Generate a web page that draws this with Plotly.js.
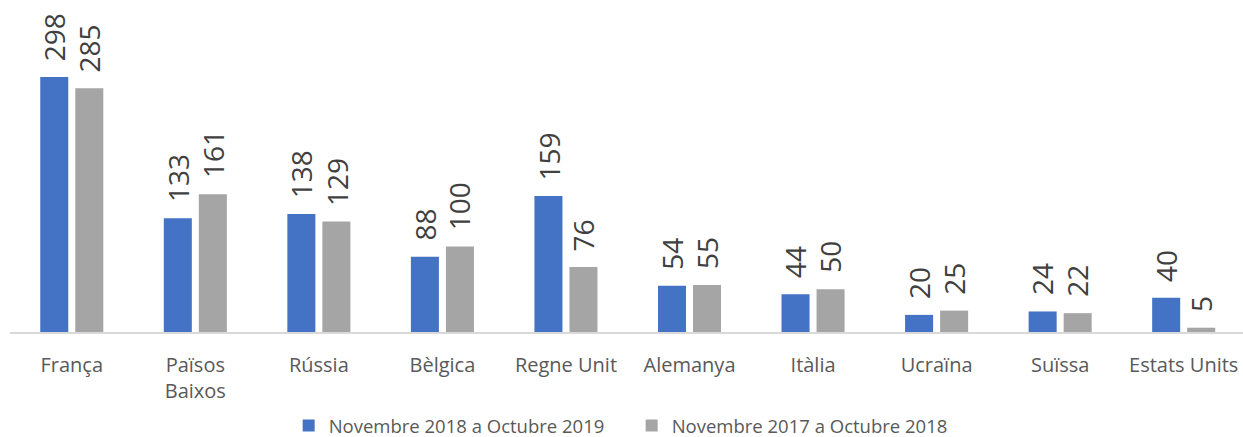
<!DOCTYPE html>
<html>
<head>
<meta charset="utf-8">
<script src="https://cdn.plot.ly/plotly-3.0.1.min.js"></script>
<style>html,body{margin:0;padding:0;background:#fff;}#chart{width:1243px;height:437px;}</style>
</head>
<body>
<div id="chart"></div>
<script>
var categories = ["França", "Països<br>Baixos", "Rússia", "Bèlgica", "Regne Unit", "Alemanya", "Itàlia", "Ucraïna", "Suïssa", "Estats Units"];
var series1Name = "Novembre 2018 a Octubre 2019";
var series2Name = "Novembre 2017 a Octubre 2018";
var series1 = [298, 133, 138, 88, 159, 54, 44, 20, 24, 40];
var series2 = [285, 161, 129, 100, 76, 55, 50, 25, 22, 5];

var blue = "#4472C4", gray = "#A5A5A5", txt = "#595959";
var fontFam = "Open Sans, Noto Sans, sans-serif";

var traces = [
  {type: "bar", name: series1Name, x: categories, y: series1, marker: {color: blue}, hoverinfo: "none"},
  {type: "bar", name: series2Name, x: categories, y: series2, marker: {color: gray}, hoverinfo: "none"}
];

var annotations = [];
function addLabels(vals, shift) {
  vals.forEach(function (v, i) {
    annotations.push({
      x: categories[i], y: v, xref: "x", yref: "y",
      text: String(v), showarrow: false, textangle: -90,
      xanchor: "center", yanchor: "bottom", xshift: shift, yshift: 14,
      font: {family: fontFam, size: 28, color: "#404040"}
    });
  });
}
addLabels(series1, -17.5);
addLabels(series2, 17.5);

var layout = {
  width: 1243, height: 437,
  margin: {l: 10, r: 0, t: 0, b: 105, autoexpand: false},
  paper_bgcolor: "#fff", plot_bgcolor: "#fff",
  barmode: "group", bargap: 0.433, bargroupgap: 0.2,
  font: {family: fontFam, color: txt},
  xaxis: {
    range: [-0.5, 9.48], showgrid: false, zeroline: false,
    showline: true, linecolor: "#D9D9D9", linewidth: 1.5,
    ticks: "", ticklabelstandoff: 14, tickfont: {size: 20, color: txt}, fixedrange: true
  },
  yaxis: {range: [0, 388], visible: false, fixedrange: true},
  legend: {
    orientation: "h", x: 0.226, xanchor: "left", y: -0.226, yanchor: "top",
    font: {size: 18.5, color: txt}, itemwidth: 30, entrywidth: 298, traceorder: "normal"
  },
  annotations: annotations,
  showlegend: true
};

Plotly.newPlot("chart", traces, layout, {displayModeBar: false, staticPlot: true});
</script>
</body>
</html>
